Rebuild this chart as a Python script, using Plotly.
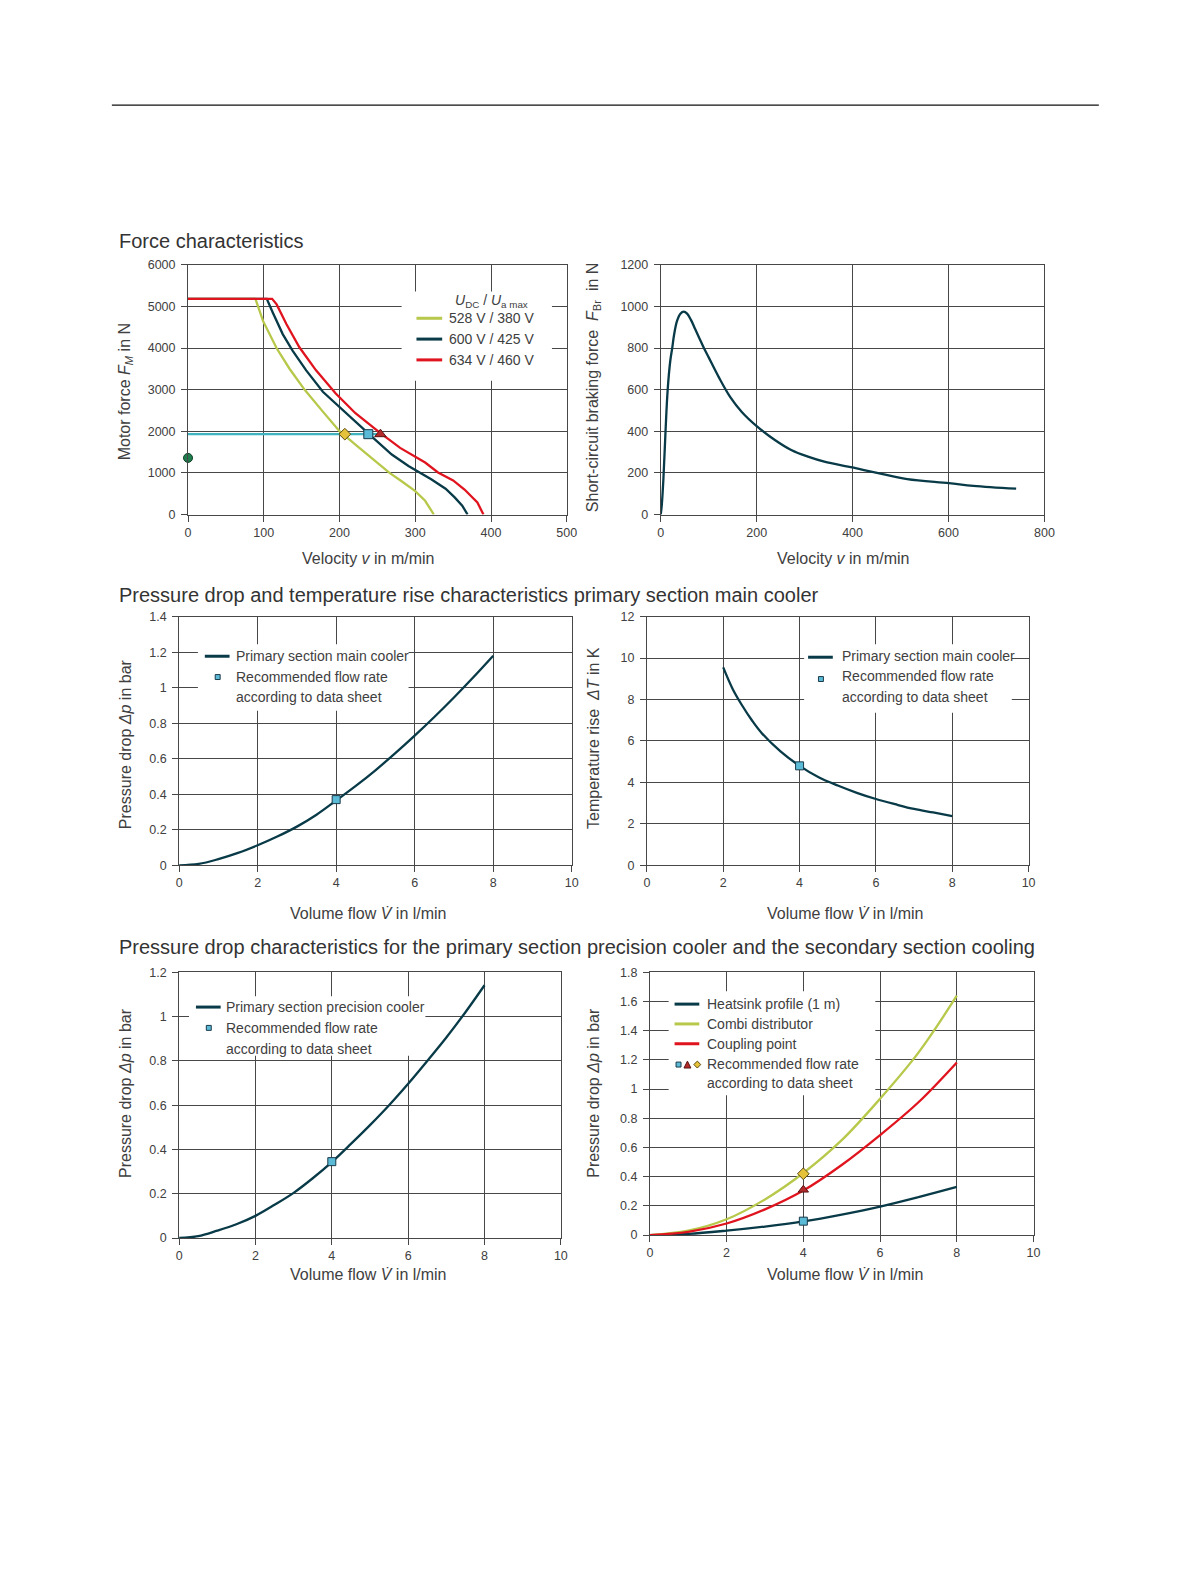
import plotly.graph_objects as go

# ---------------- data ----------------
# Force characteristics (motor force vs velocity)
v_528 = [0, 89, 99, 117, 134, 154, 178, 200, 221, 247, 266, 282, 300, 313, 324.5]
F_528 = [5180, 5180, 4651, 3994, 3502, 2995, 2472, 2000, 1680, 1300, 1000, 800, 560, 330, 0]
v_600 = [0, 104, 112, 125, 138, 156, 178, 204, 232, 247, 269, 291, 321, 340, 352, 362, 369]
F_600 = [5180, 5180, 4849, 4334, 3938, 3463, 2948, 2512, 2036, 1799, 1442, 1165, 848, 620, 412, 214, 0]
v_634 = [0, 111, 117, 130, 147, 169, 195, 221, 254, 280, 313, 330, 350, 365, 382, 390]
F_634 = [5180, 5180, 5048, 4572, 4017, 3463, 2908, 2433, 1957, 1600, 1250, 1010, 820, 600, 290, 0]
v_load = [0, 254]
F_load = [1930, 1930]
v_pts = [207, 238, 254]
F_pts = [1930, 1930, 1930]
v_dot = [0]
F_dot = [1360]

# Short-circuit braking force
v_br = [0, 2, 5.5, 10, 14.5, 20, 24, 28, 34, 41, 48, 55, 63, 72, 81, 90, 100, 121, 145, 169,
        200, 238, 272, 307, 341, 400, 451, 514, 601, 652, 741]
F_br = [0, 40, 167, 400, 600, 740, 800, 866, 930, 965, 975, 965, 935, 890, 845, 800, 755, 660, 564, 493,
        425, 358, 310, 278, 254, 226, 200, 170, 151, 138, 124]

# Primary section main cooler
q_main = [0, 0.5, 1, 1.5, 2, 2.5, 3, 3.5, 4, 4.5, 5, 5.5, 6, 6.5, 7, 7.5, 8]
dp_main = [0, 0.008, 0.035, 0.07, 0.113, 0.162, 0.218, 0.285, 0.365, 0.447, 0.535, 0.63, 0.73,
           0.835, 0.945, 1.06, 1.18]
q_main_rec = [4]
dp_main_rec = [0.37]

q_T = [2, 2.25, 2.5, 2.75, 3, 3.5, 4, 4.5, 5, 5.5, 6, 6.5, 7, 7.5, 8]
dT = [9.55, 8.5, 7.7, 7.0, 6.4, 5.5, 4.8, 4.25, 3.85, 3.5, 3.2, 2.95, 2.72, 2.55, 2.38]
q_T_rec = [4]
dT_rec = [4.8]

# Primary section precision cooler
q_prec = [0, 0.5, 1, 1.5, 2, 2.5, 3, 3.5, 4, 4.5, 5, 5.5, 6, 6.5, 7, 7.5, 8]
dp_prec = [0, 0.008, 0.033, 0.062, 0.1, 0.15, 0.204, 0.27, 0.343, 0.425, 0.51, 0.6, 0.697,
           0.8, 0.906, 1.02, 1.142]
q_prec_rec = [4]
dp_prec_rec = [0.345]

# Secondary section cooling
q_sec = [0, 1, 2, 3, 4, 5, 6, 7, 8]
dp_heatsink = [0, 0.008, 0.03, 0.058, 0.093, 0.14, 0.195, 0.26, 0.33]
dp_combi = [0, 0.03, 0.108, 0.244, 0.425, 0.65, 0.934, 1.25, 1.64]
dp_coupling = [0, 0.022, 0.079, 0.176, 0.305, 0.48, 0.685, 0.91, 1.183]
q_sec_rec = [4]
dp_heatsink_rec = [0.095]
dp_coupling_rec = [0.31]
dp_combi_rec = [0.42]

# ---------------- styling ----------------
# page is 1191x1587; the browser keeps its default 8px body margin,
# so the figure is 16px smaller and page pixels are shifted by 8.
OFF = 8
W, H = 1191 - 2 * OFF, 1587 - 2 * OFF
FONT = "Liberation Sans, Arial, sans-serif"
GRID = "#474747"
NAVY = "#083a48"
GREEN = "#b7c84a"
RED = "#e0141e"
CYAN = "#3fb3c0"
SQ = "#5bbad6"
DIA = "#e6c23a"
TRI = "#b42a2a"
DOT = "#1f7d4d"
TXT = "#404040"


def px(x):
    return (x - OFF) / W


def py(y):
    return 1 - (y - OFF) / H


fig = go.Figure()

# subplot boxes in page pixels: (x0, x1, ytop, ybottom)
boxes = {
    1: (187, 570, 260, 512),
    2: (665, 1053, 260, 512),
    3: (178, 575, 615, 866),
    4: (651, 1037, 615, 866),
    5: (178, 564, 974, 1242),
    6: (654, 1042, 974, 1239),
}
ranges = {
    1: ([0, 500], 100, [0, 6000], 1000),
    2: ([0, 800], 200, [0, 1200], 200),
    3: ([0, 10], 2, [0, 1.4], 0.2),
    4: ([0, 10], 2, [0, 12], 2),
    5: ([0, 10], 2, [0, 1.2], 0.2),
    6: ([0, 10], 2, [0, 1.8], 0.2),
}

layout_axes = {}
for i, (x0, x1, yt, yb) in boxes.items():
    xr, xd, yr, yd = ranges[i]
    sfx = "" if i == 1 else str(i)
    common = dict(showgrid=True, gridcolor=GRID, gridwidth=1, showline=True, linecolor=GRID,
                  linewidth=1, mirror=True, ticks="outside", ticklen=6, tickcolor=GRID,
                  tickfont=dict(family=FONT, size=12.5, color=TXT), zeroline=False, fixedrange=True)
    layout_axes["xaxis" + sfx] = dict(domain=[px(x0), px(x1)], range=xr, dtick=xd, tick0=0,
                                      anchor="y" + sfx, **common)
    layout_axes["yaxis" + sfx] = dict(domain=[py(yb), py(yt)], range=yr, dtick=yd, tick0=0,
                                      anchor="x" + sfx, ticklabelstandoff=3, **common)


def ax(i):
    s = "" if i == 1 else str(i)
    return dict(xaxis="x" + s, yaxis="y" + s)


def line(x, y, color, i, width=2.3, shape="linear"):
    fig.add_trace(go.Scatter(x=x, y=y, mode="lines", line=dict(color=color, width=width, shape=shape),
                             showlegend=False, hoverinfo="skip", **ax(i)))


def marker(x, y, symbol, color, outline, i, size=9):
    fig.add_trace(go.Scatter(x=x, y=y, mode="markers", cliponaxis=False,
                             marker=dict(symbol=symbol, color=color, size=size,
                                         line=dict(color=outline, width=1)),
                             showlegend=False, hoverinfo="skip", **ax(i)))


# plot 1
line(v_load, F_load, CYAN, 1, width=2.2)
line(v_528, F_528, GREEN, 1)
line(v_600, F_600, NAVY, 1)
line(v_634, F_634, RED, 1)
marker([v_pts[0]], [F_pts[0]], "diamond", DIA, "#5a4a10", 1, size=9)
marker([v_pts[1]], [F_pts[1]], "square", SQ, "#1a3a4a", 1, size=9)
marker([v_pts[2]], [F_pts[2]], "triangle-up", TRI, "#5a1515", 1, size=10)
marker(v_dot, F_dot, "circle", DOT, "#0d3d25", 1, size=9)

# plot 2
line(v_br, F_br, NAVY, 2, shape="spline")

# plot 3
line(q_main, dp_main, NAVY, 3, shape="spline")
marker(q_main_rec, dp_main_rec, "square", SQ, "#1a3a4a", 3, size=8)

# plot 4
line(q_T, dT, NAVY, 4, shape="spline")
marker(q_T_rec, dT_rec, "square", SQ, "#1a3a4a", 4, size=8)

# plot 5
line(q_prec, dp_prec, NAVY, 5, shape="spline")
marker(q_prec_rec, dp_prec_rec, "square", SQ, "#1a3a4a", 5, size=8)

# plot 6
line(q_sec, dp_heatsink, NAVY, 6, shape="spline")
line(q_sec, dp_combi, GREEN, 6, shape="spline")
line(q_sec, dp_coupling, RED, 6, shape="spline")
marker(q_sec_rec, dp_heatsink_rec, "square", SQ, "#1a3a4a", 6, size=8)
marker(q_sec_rec, dp_coupling_rec, "triangle-up", TRI, "#5a1515", 6, size=9)
marker(q_sec_rec, dp_combi_rec, "diamond", DIA, "#5a4a10", 6, size=9)

shapes = []
annotations = []

# top rule
shapes.append(dict(type="line", xref="paper", yref="paper", x0=px(110), x1=px(1108),
                   y0=py(99), y1=py(99), line=dict(color="#111111", width=1.2)))


def text(x, y, s, size=14, xanchor="left", angle=0, color=TXT):
    annotations.append(dict(x=px(x), y=py(y), xref="paper", yref="paper", text=s, showarrow=False,
                            xanchor=xanchor, yanchor="middle", textangle=angle,
                            font=dict(family=FONT, size=size, color=color)))


# section titles
text(115, 236, "Force characteristics", size=20, color="#333333")
text(115, 593, "Pressure drop and temperature rise characteristics primary section main cooler",
     size=20, color="#333333")
text(115, 948, "Pressure drop characteristics for the primary section precision cooler and the "
     "secondary section cooling", size=20, color="#333333")

# axis titles
VEL = "Velocity <i>v</i> in m/min"
VOL = "Volume flow <i>V\u0307</i> in l/min"
DP = "Pressure drop <i>\u0394p</i> in bar"
text(370, 556, VEL, size=16, xanchor="center")
text(850, 556, VEL, size=16, xanchor="center")
text(369, 915, VOL, size=16, xanchor="center")
text(852, 915, VOL, size=16, xanchor="center")
text(369, 1279, VOL, size=16, xanchor="center")
text(852, 1279, VOL, size=16, xanchor="center")
text(124, 388, "Motor force <i>F</i><sub><i>M</i></sub> in N", size=16, xanchor="center", angle=-90)
text(597, 383, "Short-circuit braking force  <i>F</i><sub>Br</sub>  in N", size=16,
     xanchor="center", angle=-90)
text(124, 744, DP, size=16, xanchor="center", angle=-90)
text(597, 737, "Temperature rise  <i>\u0394T</i> in K", size=16, xanchor="center", angle=-90)
text(124, 1096, DP, size=16, xanchor="center", angle=-90)
text(597, 1095, DP, size=16, xanchor="center", angle=-90)


def legend_box(x0, x1, y0, y1):
    shapes.append(dict(type="rect", xref="paper", yref="paper", x0=px(x0), x1=px(x1),
                       y0=py(y1), y1=py(y0), fillcolor="white", line=dict(width=0), layer="above"))


def legend_line(x0, x1, y, color):
    shapes.append(dict(type="line", xref="paper", yref="paper", x0=px(x0), x1=px(x1),
                       y0=py(y), y1=py(y), line=dict(color=color, width=3), layer="above"))


def legend_square(cx, cy, color, s=5):
    shapes.append(dict(type="rect", xref="paper", yref="paper", x0=px(cx - s / 2), x1=px(cx + s / 2),
                       y0=py(cy + s / 2), y1=py(cy - s / 2), fillcolor=color,
                       line=dict(color="#1a3a4a", width=1), layer="above"))


def legend_path(pts, color, outline):
    d = "M " + " L ".join(f"{px(a):.5f},{py(b):.5f}" for a, b in pts) + " Z"
    shapes.append(dict(type="path", xref="paper", yref="paper", path=d, fillcolor=color,
                       line=dict(color=outline, width=1), layer="above"))


# legend plot 1
legend_box(403, 555, 287, 377)
text(533, 297, "<i>U</i><sub>DC</sub> / <i>U</i><sub>a max</sub>", size=14, xanchor="right")
for yy, col, lab in [(314, GREEN, "528 V / 380 V"), (335, NAVY, "600 V / 425 V"),
                     (356, RED, "634 V / 460 V")]:
    legend_line(418, 444, yy, col)
    text(449, yy, lab, size=14)

# legend plot 3
legend_box(197, 410, 643, 710)
legend_line(204, 229, 655, NAVY)
legend_square(217, 676, SQ)
text(234, 655, "Primary section main cooler", size=14)
text(234, 676, "Recommended flow rate", size=14)
text(234, 696, "according to data sheet", size=14)

# legend plot 4
legend_box(810, 1020, 643, 712)
legend_line(814, 839, 656, NAVY)
legend_square(827, 678, SQ)
text(846, 655, "Primary section main cooler", size=14)
text(846, 675, "Recommended flow rate", size=14)
text(846, 696, "according to data sheet", size=14)

# legend plot 5
legend_box(188, 427, 998, 1058)
legend_line(195, 220, 1009, NAVY)
legend_square(208, 1030, SQ)
text(223, 1009, "Primary section precision cooler", size=14)
text(223, 1030, "Recommended flow rate", size=14)
text(223, 1051, "according to data sheet", size=14)

# legend plot 6
legend_box(673, 882, 993, 1098)
for yy, col, lab in [(1006, NAVY, "Heatsink profile (1 m)"), (1026, GREEN, "Combi distributor"),
                     (1046, RED, "Coupling point")]:
    legend_line(679, 704, yy, col)
    text(710, yy, lab, size=14)
legend_square(683, 1067, SQ)
legend_path([(688.5, 1070.5), (695.5, 1070.5), (692, 1063.5)], TRI, "#5a1515")
legend_path([(702, 1063.5), (705.5, 1067), (702, 1070.5), (698.5, 1067)], DIA, "#5a4a10")
text(710, 1066, "Recommended flow rate", size=14)
text(710, 1086, "according to data sheet", size=14)

fig.update_layout(width=W, height=H, margin=dict(l=0, r=0, t=0, b=0), paper_bgcolor="white",
                  plot_bgcolor="white", showlegend=False, shapes=shapes, annotations=annotations,
                  font=dict(family=FONT), **layout_axes)

fig.write_html("out.html", config={"displayModeBar": False, "staticPlot": True})
